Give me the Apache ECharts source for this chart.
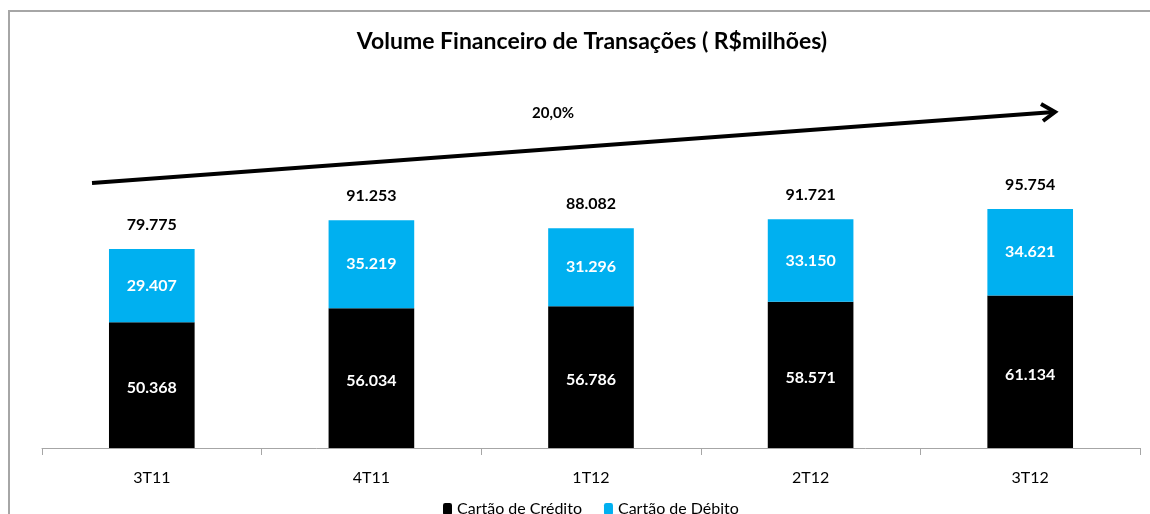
<!DOCTYPE html>
<html>
<head>
<meta charset="utf-8">
<script src="https://cdn.jsdelivr.net/npm/echarts@6/dist/echarts.min.js"></script>
<style>html,body{margin:0;padding:0;background:#fff}#c{width:1150px;height:514px}</style>
</head>
<body>
<div id="c"></div>
<script>
const categories = ['3T11', '4T11', '1T12', '2T12', '3T12'];
const credito = [50368, 56034, 56786, 58571, 61134];
const debito = [29407, 35219, 31296, 33150, 34621];
const totais = [79775, 91253, 88082, 91721, 95754];
const crescimento = '20,0%';

const fmt = v => String(v).replace(/\B(?=(\d{3})+(?!\d))/g, '.');
const FONT = 'Lato';

const chart = echarts.init(document.getElementById('c'), null, {renderer: 'canvas'});
chart.setOption({
  backgroundColor: '#fff',
  animation: false,
  textStyle: {fontFamily: FONT},
  title: {
    text: 'Volume Financeiro de Transações ( R$milhões)',
    left: 587, top: 25, textAlign: 'center',
    textStyle: {fontFamily: FONT, fontSize: 23, fontWeight: 'bold', color: '#000'}
  },
  legend: {
    left: 438, top: 496, itemWidth: 9, itemHeight: 12, itemGap: 22,
    textStyle: {fontFamily: FONT, fontSize: 16, color: '#000'},
    data: ['Cartão de Crédito', 'Cartão de Débito']
  },
  grid: {left: 42, right: 10, top: 198.5, bottom: 66},
  xAxis: {
    type: 'category', data: categories,
    axisLine: {lineStyle: {color: '#a6a6a6', width: 1}},
    axisTick: {show: true, length: 7, lineStyle: {color: '#a6a6a6'}},
    axisLabel: {color: '#000', fontSize: 16, fontFamily: FONT, margin: 22}
  },
  yAxis: {type: 'value', min: 0, max: 100000, show: false, splitLine: {show: false}},
  series: [
    {
      name: 'Cartão de Crédito', type: 'bar', stack: 't', data: credito,
      barWidth: '39%', itemStyle: {color: '#000'},
      label: {show: true, position: 'inside', color: '#fff', fontSize: 16, fontWeight: 'bold',
        fontFamily: FONT, offset: [0, 3], formatter: p => fmt(p.value)}
    },
    {
      name: 'Cartão de Débito', type: 'bar', stack: 't', data: debito,
      barWidth: '39%', itemStyle: {color: '#00B0F0'},
      label: {show: true, position: 'inside', color: '#fff', fontSize: 16, fontWeight: 'bold',
        fontFamily: FONT, formatter: p => fmt(p.value)}
    },
    {
      name: 'Total', type: 'line', data: totais, symbol: 'circle', symbolSize: 1,
      itemStyle: {opacity: 0}, lineStyle: {opacity: 0}, silent: true, z: 5,
      label: {show: true, position: 'top', distance: 16, color: '#000', fontSize: 16,
        fontWeight: 'bold', fontFamily: FONT, opacity: 1, formatter: p => fmt(p.value)}
    }
  ],
  graphic: [
    {type: 'polyline', shape: {points: [[9, 520], [9, 11], [1160, 11]]},
      style: {stroke: '#a6a6a6', lineWidth: 2, fill: null}},
    {type: 'polyline', shape: {points: [[92, 183], [1054, 112]]},
      style: {stroke: '#000', lineWidth: 4, fill: null}},
    {type: 'polyline', shape: {points: [[1041, 104], [1055, 112], [1043, 121]]},
      style: {stroke: '#000', lineWidth: 4, fill: null, lineJoin: 'miter'}},
    {type: 'text', x: 553, y: 113,
      style: {text: crescimento, fontFamily: FONT, fontSize: 15, fontWeight: 'bold', fill: '#000',
        textAlign: 'center', textVerticalAlign: 'middle'}}
  ]
});
</script>
</body>
</html>
